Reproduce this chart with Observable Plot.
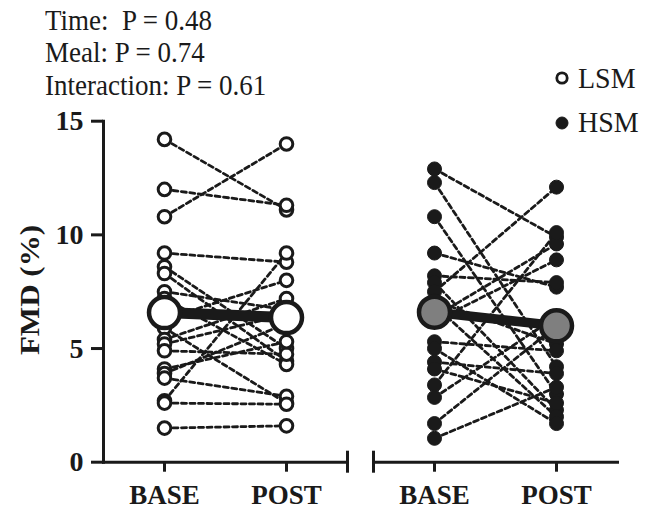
<!DOCTYPE html>
<html><head><meta charset="utf-8">
<script src="https://cdn.jsdelivr.net/npm/d3@7"></script>
<script src="https://cdn.jsdelivr.net/npm/@observablehq/plot@0.6"></script>
<style>
body{margin:0;background:#fff;}
#wrap{position:relative;width:657px;height:510px;font-family:"Liberation Serif","Times New Roman",serif;color:#1a1a1a;}
#wrap svg.plot{position:absolute;left:0;top:0;}
.note{position:absolute;left:45px;font-size:27px;white-space:pre;line-height:1;transform:scaleY(1.1);transform-origin:0 0;}
.leg{position:absolute;left:578px;font-size:28px;line-height:1;transform:scaleY(1.05);transform-origin:0 0;}
#ylab{position:absolute;left:30px;top:290px;transform:translate(-50%,-50%) rotate(-90deg) scale(1.15,1);font-size:27px;font-weight:bold;white-space:pre;line-height:1;}
#legsym{position:absolute;left:0;top:0;}
</style></head><body><div id="wrap"></div>
<script>
const meals = ["LSM", "HSM"];
const times = ["BASE", "POST"];
const yTicks = [0, 5, 10, 15];
const stats = ["Time:  P = 0.48", "Meal: P = 0.74", "Interaction: P = 0.61"];
const yLabel = "FMD (%)";

// individual subjects (BASE -> POST)
const lsmBase = [14.2, 12.0, 10.8, 9.2, 8.6, 8.3, 7.5, 7.2, 6.3, 5.9, 5.4, 5.2, 4.9, 4.1, 3.9, 3.7, 2.7, 2.6, 1.5];
const lsmPost = [11.1, 11.3, 14.0, 8.8, 5.0, 4.45, 6.7, 4.3, 8.0, 2.6, 7.2, 6.5, 4.75, 5.3, 6.1, 2.9, 9.2, 2.55, 1.6];
const hsmBase = [12.9, 12.3, 10.8, 9.2, 8.2, 7.9, 7.5, 7.1, 6.9, 6.2, 6.4, 5.3, 5.0, 4.4, 4.1, 3.4, 2.85, 1.7, 1.05];
const hsmPost = [9.9, 4.2, 3.0, 7.7, 7.9, 2.3, 12.1, 5.2, 2.0, 8.9, 9.6, 4.9, 1.7, 3.9, 2.6, 10.1, 6.4, 6.0, 3.3];
// group means
const lsmMean = [6.58, 6.36];
const hsmMean = [6.6, 6.0];

const ink = "#1a1a1a";
const rows = [];
[["LSM", lsmBase, lsmPost], ["HSM", hsmBase, hsmPost]].forEach(([meal, b, p]) => {
  b.forEach((v, i) => {
    rows.push({meal, id: meal + i, time: times[0], value: v});
    rows.push({meal, id: meal + i, time: times[1], value: p[i]});
  });
});
const means = [];
[["LSM", lsmMean], ["HSM", hsmMean]].forEach(([meal, m]) => {
  m.forEach((v, j) => means.push({meal, time: times[j], value: v}));
});

const chart = Plot.plot({
  width: 657, height: 510,
  marginLeft: 103, marginRight: 40, marginTop: 120.7, marginBottom: 48.3,
  style: {color: ink, background: "transparent", fontFamily: "Liberation Serif, Times New Roman, serif"},
  fx: {domain: meals, paddingInner: 0.0963, paddingOuter: 0, axis: null},
  x: {type: "point", domain: times, padding: 0.5},
  y: {domain: [0, 15]},
  marks: [
    Plot.frame({anchor: "left", facetAnchor: "left", stroke: ink, strokeWidth: 3}),
    Plot.frame({anchor: "bottom", stroke: ink, strokeWidth: 3}),
    Plot.frame({anchor: "right", facetAnchor: "left", stroke: ink, strokeWidth: 3, insetTop: 331, insetBottom: -9}),
    Plot.frame({anchor: "left", facetAnchor: "right", stroke: ink, strokeWidth: 3, insetTop: 331, insetBottom: -9}),
    Plot.axisY({ticks: yTicks, tickSize: 12, tickPadding: 8, tickFormat: d => d, fontSize: 28, fontWeight: "bold", strokeWidth: 3, label: null}),
    Plot.axisX({tickSize: 10, tickPadding: 13, fontSize: 27, fontWeight: "bold", strokeWidth: 3, label: null}),
    Plot.line(rows, {fx: "meal", x: "time", y: "value", z: "id", stroke: ink, strokeWidth: 2.8, strokeDasharray: "5,3.5"}),
    Plot.dot(rows, {fx: "meal", x: "time", y: "value", r: 6.3, stroke: ink, strokeWidth: 3, fill: "white", filter: d => d.meal === "LSM"}),
    Plot.dot(rows, {fx: "meal", x: "time", y: "value", r: 7, stroke: ink, strokeWidth: 1, fill: ink, filter: d => d.meal === "HSM"}),
    Plot.line(means.filter(d => d.meal === "LSM"), {fx: "meal", x: "time", y: "value", stroke: ink, strokeWidth: 11}),
    Plot.line(means.filter(d => d.meal === "HSM"), {fx: "meal", x: "time", y: "value", stroke: ink, strokeWidth: 9.5}),
    Plot.dot(means, {fx: "meal", x: "time", y: "value", r: 15.5, stroke: ink, strokeWidth: 4.5, fill: "white", filter: d => d.meal === "LSM"}),
    Plot.dot(means, {fx: "meal", x: "time", y: "value", r: 15.5, stroke: ink, strokeWidth: 4.5, fill: "#7f7f7f", filter: d => d.meal === "HSM"})
  ]
});
chart.classList.add("plot");
const wrap = document.getElementById("wrap");
wrap.appendChild(chart);

const tops = [6, 38, 71];
stats.forEach((s, i) => {
  const d = document.createElement("div");
  d.className = "note"; d.style.top = tops[i] + "px"; d.textContent = s;
  wrap.appendChild(d);
});
const legTops = [64, 108];
meals.forEach((m, i) => {
  const d = document.createElement("div");
  d.className = "leg"; d.style.top = legTops[i] + "px"; d.textContent = m;
  wrap.appendChild(d);
});
const ns = "http://www.w3.org/2000/svg";
const sym = document.createElementNS(ns, "svg");
sym.setAttribute("id", "legsym"); sym.setAttribute("width", 657); sym.setAttribute("height", 140);
[[78, "white", 5.2, 2.8], [123, ink, 6, 1]].forEach(([cy, f, r, sw]) => {
  const c = document.createElementNS(ns, "circle");
  c.setAttribute("cx", 562); c.setAttribute("cy", cy); c.setAttribute("r", r);
  c.setAttribute("fill", f); c.setAttribute("stroke", ink); c.setAttribute("stroke-width", sw);
  sym.appendChild(c);
});
wrap.appendChild(sym);
const yl = document.createElement("div");
yl.id = "ylab"; yl.textContent = yLabel;
wrap.appendChild(yl);
</script>
</body></html>
